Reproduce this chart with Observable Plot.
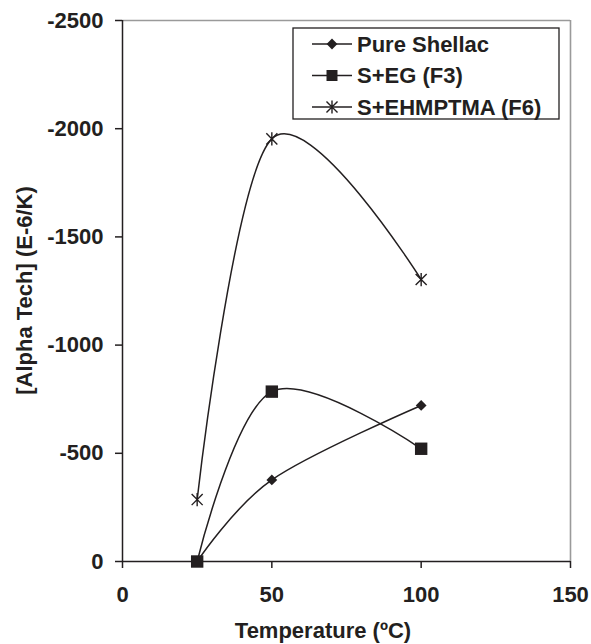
<!DOCTYPE html>
<html><head><meta charset="utf-8">
<script src="https://cdn.jsdelivr.net/npm/d3@7"></script>
<script src="https://cdn.jsdelivr.net/npm/@observablehq/plot@0.6"></script>
<style>body{margin:0;background:#fff}</style>
</head><body><div id="chart"></div>
<script>
// ---- data ----
const temperatures = [25, 50, 100];
const pureShellac = [0, -377, -721];
const sEG = [0, -785, -521];
const sEHMPTMA = [-286, -1953, -1303];
const seriesNames = ["Pure Shellac", "S+EG (F3)", "S+EHMPTMA (F6)"];
const xTicks = [0, 50, 100, 150];
const yTicks = [0, -500, -1000, -1500, -2000, -2500];
const xTitle = "Temperature (ºC)";
const yTitle = "[Alpha Tech] (E-6/K)";

const ink = "#231f20";
const font = "'Liberation Sans', Arial, sans-serif";

const seriesValues = [pureShellac, sEG, sEHMPTMA];
const rows = seriesNames.flatMap((s, i) => temperatures.map((t, j) => ({series: s, x: t, y: seriesValues[i][j]})));
const rowsOf = s => rows.filter(d => d.series === s);

const starSymbol = {
  draw(ctx, size) {
    const r = Math.sqrt(size / Math.PI);
    const a = r * 0.92;
    ctx.moveTo(-a, -a); ctx.lineTo(a, a);
    ctx.moveTo(-a, a); ctx.lineTo(a, -a);
    ctx.moveTo(0, -r * 1.1); ctx.lineTo(0, r * 1.1);
  }
};

const chart = Plot.plot({
  width: 591, height: 644,
  marginLeft: 122, marginRight: 21, marginTop: 20, marginBottom: 83,
  x: {domain: [0, 150]},
  y: {domain: [0, -2500]},
  style: {fontFamily: font, fontSize: "22px", fontWeight: "bold", color: ink, background: "white", overflow: "visible"},
  marks: [
    Plot.ruleY([yTicks[yTicks.length - 1]], {stroke: "#9a9a9a", strokeWidth: 1.6}),
    Plot.ruleX([xTicks[xTicks.length - 1]], {stroke: "#9a9a9a", strokeWidth: 1.6}),
    Plot.axisY({ticks: yTicks, tickSize: 7, tickPadding: 12, tickFormat: d => String(d), label: null, stroke: ink, strokeWidth: 1.5}),
    Plot.axisX({ticks: xTicks, tickSize: 7, tickPadding: 18, tickFormat: d => String(d), label: null, stroke: ink, strokeWidth: 1.5}),
    Plot.ruleX([xTicks[0]], {stroke: ink, strokeWidth: 1.5}),
    Plot.ruleY([yTicks[0]], {stroke: ink, strokeWidth: 1.5}),
    Plot.line(rows, {x: "x", y: "y", z: "series", curve: "cardinal", stroke: ink, strokeWidth: 1.5}),
    Plot.dot(rowsOf(seriesNames[0]), {x: "x", y: "y", symbol: "square", rotate: 45, r: 4.3, fill: ink, stroke: "none"}),
    Plot.dot(rowsOf(seriesNames[1]), {x: "x", y: "y", symbol: "square", r: 7, fill: ink, stroke: "none"}),
    Plot.dot(rowsOf(seriesNames[2]), {x: "x", y: "y", symbol: starSymbol, r: 6, fill: "none", stroke: ink, strokeWidth: 1.4})
  ]
});

const svg = d3.select(chart);

// axis titles
svg.append("text")
  .attr("x", 323).attr("y", 638)
  .attr("text-anchor", "middle")
  .attr("font-family", font).attr("font-size", 22).attr("font-weight", "bold").attr("fill", ink)
  .text(xTitle);
svg.append("text")
  .attr("transform", "translate(32,290.5) rotate(-90)")
  .attr("text-anchor", "middle")
  .attr("font-family", font).attr("font-size", 22).attr("font-weight", "bold").attr("fill", ink)
  .text(yTitle);

// legend
const lg = svg.append("g").attr("text-anchor", "start");
lg.append("rect").attr("x", 293).attr("y", 28).attr("width", 266).attr("height", 91)
  .attr("fill", "white").attr("stroke", ink).attr("stroke-width", 1.3);
const symFor = [
  {type: d3.symbolSquare, size: Math.PI * 4.3 * 4.3, rotate: 45, fill: ink, stroke: "none"},
  {type: d3.symbolSquare, size: Math.PI * 6.2 * 6.2, rotate: 0, fill: ink, stroke: "none"},
  {type: starSymbol, size: Math.PI * 6 * 6, rotate: 0, fill: "none", stroke: ink}
];
seriesNames.forEach((name, i) => {
  const cy = 44 + i * 31.5;
  lg.append("line").attr("x1", 312).attr("x2", 352).attr("y1", cy).attr("y2", cy)
    .attr("stroke", ink).attr("stroke-width", 1.5);
  const s = symFor[i];
  lg.append("path").attr("d", d3.symbol(s.type, s.size)())
    .attr("transform", `translate(332,${cy}) rotate(${s.rotate})`)
    .attr("fill", s.fill).attr("stroke", s.stroke).attr("stroke-width", 1.4);
  lg.append("text").attr("x", 357).attr("y", cy).attr("dy", "0.36em")
    .attr("text-anchor", "start")
    .attr("font-family", font).attr("font-size", 22).attr("font-weight", "bold").attr("fill", ink)
    .text(name);
});

document.getElementById("chart").appendChild(chart);
</script>
</body></html>
